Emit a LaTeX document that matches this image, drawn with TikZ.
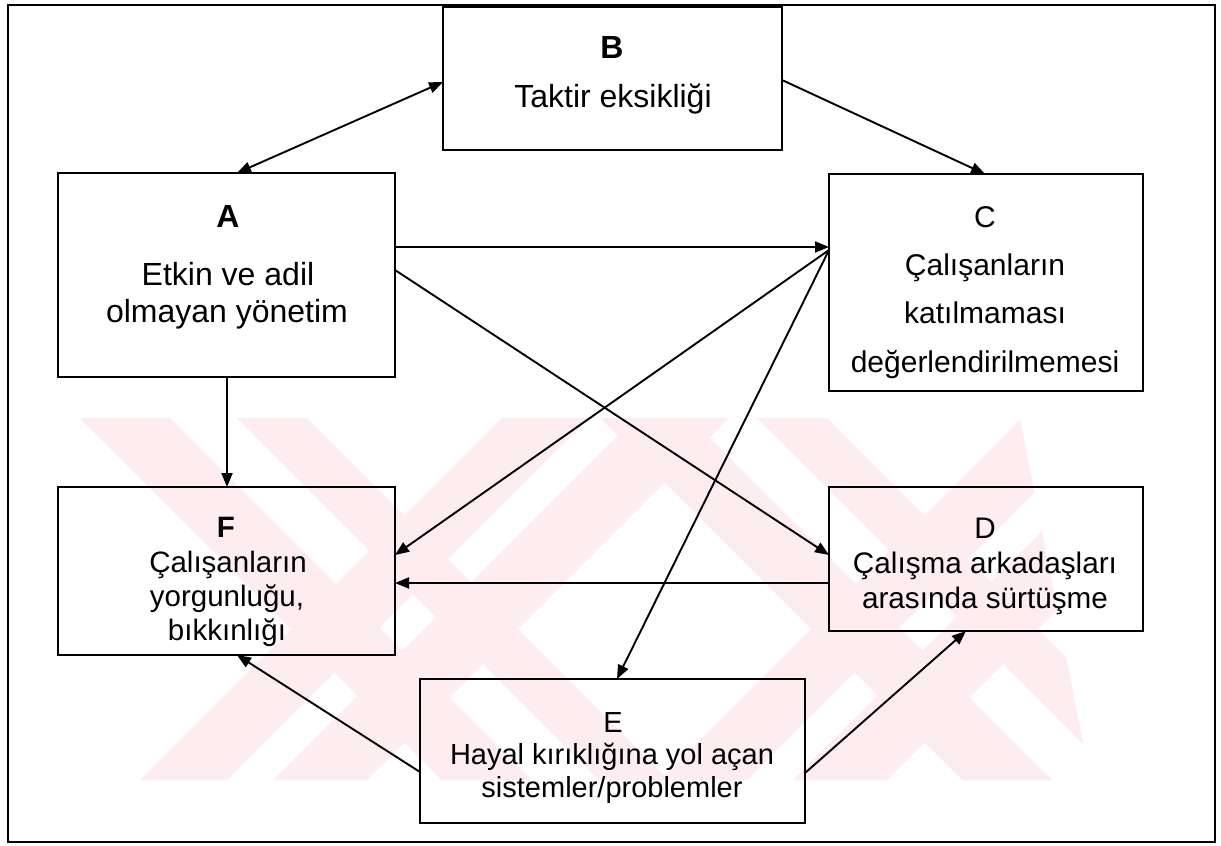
\documentclass[tikz,border=0pt]{standalone}
\usepackage{fontspec}
\setmainfont{Liberation Sans}
\usetikzlibrary{arrows.meta,calc}
\definecolor{wmpink}{RGB}{254,237,240}

\begin{document}
\begin{tikzpicture}[x=1pt,y=-1pt,
  box/.style={draw=black, line width=2.3pt, inner sep=0pt, outer sep=0pt, rectangle},
  lbl/.style={anchor=base, inner sep=0pt, font=\fontsize{#1}{36}\selectfont},
  lbl/.default=30,
  lblb/.style={anchor=base, inner sep=0pt, font=\fontsize{#1}{36}\selectfont\bfseries},
  lblb/.default=30,
  conn/.style={line width=1.9pt, -{Triangle[length=14pt,width=11pt]}},
  conn2/.style={line width=1.9pt, {Triangle[length=14pt,width=11pt]}-{Triangle[length=14pt,width=11pt]}},
  wm/.style={fill=wmpink, draw=none}
]
\useasboundingbox (0,0) rectangle (1221,846);
\fill[white] (0,0) rectangle (1221,846);

% background stripes behind the lower boxes
\begin{scope}
  \clip (60,418) -- (1020,418) -- (1090,780) -- (60,780) -- cycle;
  \foreach \s in {0,520}{
    \fill[wm] (80+\s,418) -- (170+\s,418) -- (532+\s,780) -- (442+\s,780) -- cycle;
    \fill[wm] (237+\s,418) -- (307+\s,418) -- (669+\s,780) -- (599+\s,780) -- cycle;
    \fill[wm] (140+\s,780) -- (227+\s,780) -- (589+\s,418) -- (502+\s,418) -- cycle;
    \fill[wm] (273+\s,780) -- (367+\s,780) -- (729+\s,418) -- (635+\s,418) -- cycle;
  }
\end{scope}

% outer frame
\node[box, line width=2pt, minimum width=1207pt, minimum height=837pt] (frame) at (611.5,423.5) {};

% boxes
\node[box, minimum width=337pt, minimum height=204pt] (A) at (226.5,275) {};
\node[box, minimum width=339pt, minimum height=143pt] (B) at (612.5,78.5) {};
\node[box, minimum width=314pt, minimum height=217pt] (C) at (986,282.5) {};
\node[box, minimum width=314pt, minimum height=144pt] (D) at (986,559) {};
\node[box, minimum width=385pt, minimum height=144pt] (E) at (612.5,751) {};
\node[box, minimum width=337pt, minimum height=168pt] (F) at (226.5,571) {};

% box texts
\node[lblb=32] (tA1) at (228,227) {A};
\node[lbl=32]  (tA2) at (228,285) {Etkin ve adil};
\node[lbl=32]  (tA3) at (227,322) {olmayan yönetim};

\node[lblb=32] (tB1) at (612,58) {B};
\node[lbl=32]  (tB2) at (613,107) {Taktir eksikliği};

\node[lbl] (tC1) at (985,227) {C};
\node[lbl] (tC2) at (985,275) {Çalışanların};
\node[lbl] (tC3) at (985,323) {katılmaması};
\node[lbl] (tC4) at (985,372) {değerlendirilmemesi};

\node[lbl=29.7] (tD1) at (985,538) {D};
\node[lbl=29.7] (tD2) at (985,573) {Çalışma arkadaşları};
\node[lbl=29.7] (tD3) at (985,608) {arasında sürtüşme};

\node[lbl=29] (tE1) at (613,732) {E};
\node[lbl=29] (tE2) at (612,764) {Hayal kırıklığına yol açan};
\node[lbl=29] (tE3) at (612,797) {sistemler/problemler};

\node[lblb=29.5] (tF1) at (226,537) {F};
\node[lbl=29.5]  (tF2) at (228,572) {Çalışanların};
\node[lbl=29.5]  (tF3) at (227,606) {yorgunluğu,};
\node[lbl=29.5]  (tF4) at (227,640) {bıkkınlığı};

% connectors
\coordinate (Cin) at ($(C.north west)+(0,76)$);
\draw[conn2] ($(A.north west)+(179,0)$) -- ($(B.north west)+(0,75)$);
\draw[conn] ($(B.north east)+(0,73)$) -- ($(C.north west)+(156,0)$);
\draw[conn] ($(A.north east)+(0,74)$) -- ($(C.north west)+(0,73)$);
\draw[conn] ($(A.north east)+(0,97)$) -- ($(D.north west)+(0,68)$);
\draw[conn] ($(A.south west)+(169,0)$) -- ($(F.north west)+(169,0)$);
\draw[conn] (Cin) -- ($(F.north east)+(0,68)$);
\draw[conn] (Cin) -- ($(E.north west)+(197,0)$);
\draw[conn] ($(D.north west)+(0,96)$) -- ($(F.north east)+(0,96)$);
\draw[conn] ($(E.north west)+(0,93)$) -- ($(F.south west)+(179,0)$);
\draw[conn] ($(E.north east)+(0,94)$) -- ($(D.south west)+(137,0)$);
\end{tikzpicture}
\end{document}
